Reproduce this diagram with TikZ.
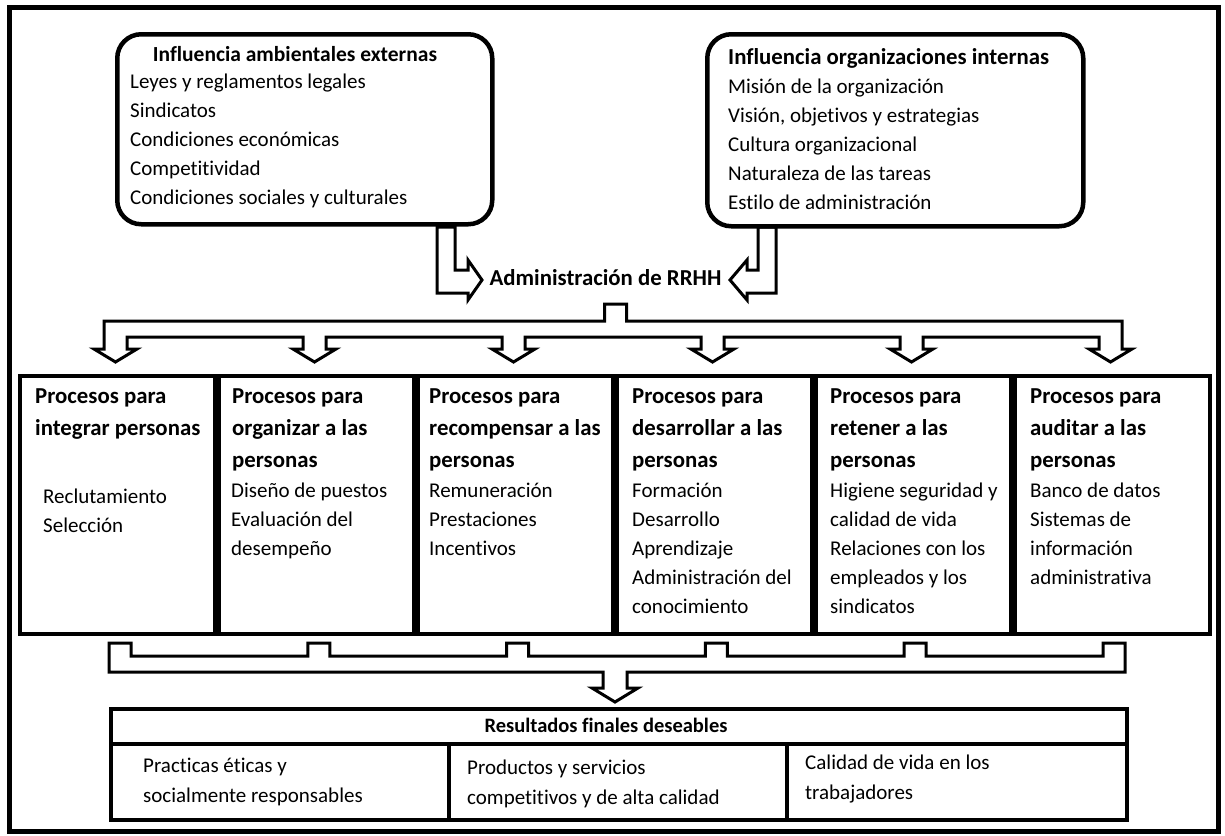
\documentclass[tikz,border=0pt]{standalone}
\usepackage{fontspec}
\setmainfont{Carlito}[Ligatures={NoCommon,NoRare,NoContextual}]
\begin{document}
\begin{tikzpicture}[x=1pt,y=-1pt,
  frame/.style={line width=5pt},
  rbox/.style={draw, line width=4.5pt, rounded corners=24pt, inner sep=0pt},
  pbox/.style={draw, line width=3.5pt, inner sep=0pt, anchor=north west},
  hollow/.style={draw, line width=3pt, line join=miter},
  body/.style={font=\fontsize{21}{25}\selectfont, anchor=base west, inner sep=0pt},
  head/.style={font=\fontsize{22.8}{27}\selectfont\bfseries, anchor=base west, inner sep=0pt},
  ttl/.style={font=\fontsize{21.5}{26}\selectfont\bfseries, anchor=base, inner sep=0pt}
]
\useasboundingbox (0,0) rectangle (1225,835);
\draw[frame] (9.5,7.5) rectangle (1218,831);

% top rounded boxes
\node[rbox, anchor=north west, minimum width=375pt, minimum height=190pt] (ext) at (115,32) {};
\node[rbox, anchor=north west, minimum width=376pt, minimum height=192pt] (int) at (705,32) {};
\node[ttl] (extT) at (295,61) {Influencia ambientales externas};
\foreach \t [count=\i] in {Leyes y reglamentos legales, Sindicatos, Condiciones económicas, Competitividad, Condiciones sociales y culturales}
  \node[body] (extL\i) at (130,{59+\i*29}) {\t};
\node[head] (intT) at (728,64) {Influencia organizaciones internas};
\foreach \t [count=\i] in {Misión de la organización, {Visión, objetivos y estrategias}, Cultura organizacional, Naturaleza de las tareas, Estilo de administración}
  \node[body] (intL\i) at (728,{64+\i*29}) {\t};

% central label and hollow arrows
\node[head, anchor=base] (adm) at (605.5,285) {Administración de RRHH};
\draw[hollow] (437,227) -- (455,227) -- (455,270) -- (468,270) -- (468,260) -- (482,280) -- (468,300) -- (468,293) -- (437,293) -- cycle;
\draw[hollow] (776,227) -- (758,227) -- (758,270) -- (747,270) -- (747,260) -- (730,280) -- (747,300) -- (747,293) -- (776,293) -- cycle;

% distribution bracket
\draw[hollow] (604.5,304) -- (626.5,304) -- (626.5,321) -- (1122,321) -- (1122,349) -- (1132,349) -- (1110.5,362) -- (1089,349) -- (1099,349) -- (1099,337)
  \foreach \c in {911.5,712.5,513.5,314.5} { -- ({\c+11.5},337) -- ({\c+11.5},349) -- ({\c+21.5},349) -- (\c,362) -- ({\c-21.5},349) -- ({\c-11.5},349) -- ({\c-11.5},337) }
  -- (127,337) -- (127,349) -- (137,349) -- (115.5,362) -- (94,349) -- (104,349) -- (104,321) -- (604.5,321) -- cycle;

% process boxes
\foreach \i in {1,...,6}
  \node[pbox, minimum width=195pt, minimum height=258pt] (p\i) at ({18+199*(\i-1)},374) {};

% box 1
\foreach \t [count=\i] in {Procesos para, integrar personas}
  \node[head] (h1-\i) at (35,{371+\i*32}) {\t};
\foreach \t [count=\i] in {Reclutamiento, Selección}
  \node[body] (d1-\i) at (43,{474+\i*29}) {\t};
% box 2
\foreach \t [count=\i] in {Procesos para, organizar a las, personas}
  \node[head] (h2-\i) at (232,{371+\i*32}) {\t};
\foreach \t [count=\i] in {Diseño de puestos, Evaluación del, desempeño}
  \node[body] (d2-\i) at (231,{468+\i*29}) {\t};
% box 3
\foreach \t [count=\i] in {Procesos para, recompensar a las, personas}
  \node[head] (h3-\i) at (429,{371+\i*32}) {\t};
\foreach \t [count=\i] in {Remuneración, Prestaciones, Incentivos}
  \node[body] (d3-\i) at (429,{468+\i*29}) {\t};
% box 4
\foreach \t [count=\i] in {Procesos para, desarrollar a las, personas}
  \node[head] (h4-\i) at (632,{371+\i*32}) {\t};
\foreach \t [count=\i] in {Formación, Desarrollo, Aprendizaje, Administración del, conocimiento}
  \node[body] (d4-\i) at (632,{468+\i*29}) {\t};
% box 5
\foreach \t [count=\i] in {Procesos para, retener a las, personas}
  \node[head] (h5-\i) at (830,{371+\i*32}) {\t};
\foreach \t [count=\i] in {Higiene seguridad y, calidad de vida, Relaciones con los, empleados y los, sindicatos}
  \node[body] (d5-\i) at (830,{468+\i*29}) {\t};
% box 6
\foreach \t [count=\i] in {Procesos para, auditar a las, personas}
  \node[head] (h6-\i) at (1030,{371+\i*32}) {\t};
\foreach \t [count=\i] in {Banco de datos, Sistemas de, información, administrativa}
  \node[body] (d6-\i) at (1030,{468+\i*29}) {\t};

% collecting bracket
\draw[hollow] (109,643) -- (131,643) -- (131,656)
  \foreach \n in {318.8,517.6,716.4,915.2} { -- ({\n-11},656) -- ({\n-11},643) -- ({\n+11},643) -- ({\n+11},656) }
  -- (1103,656) -- (1103,643) -- (1125,643) -- (1125,672) -- (627,672) -- (627,688) -- (638,688) -- (615,702) -- (592,688) -- (603,688) -- (603,672) -- (109,672) -- cycle;

% results
\node[pbox, minimum width=1016pt, minimum height=111pt] (res) at (109,707) {};
\draw[line width=3.5pt] (109,744) -- (1125,744);
\draw[line width=3.5pt] (449,744) -- (449,818);
\draw[line width=3.5pt] (787,744) -- (787,818);
\node[font=\fontsize{20.5}{24}\selectfont\bfseries, anchor=base, inner sep=0pt] (resT) at (606,732) {Resultados finales deseables};
\node[body] (r1a) at (143,772) {Practicas éticas y};
\node[body] (r1b) at (143,802) {socialmente responsables};
\node[body] (r2a) at (467,774) {Productos y servicios};
\node[body] (r2b) at (467,804) {competitivos y de alta calidad};
\node[body] (r3a) at (805,769) {Calidad de vida en los};
\node[body] (r3b) at (805,799) {trabajadores};
\end{tikzpicture}
\end{document}
